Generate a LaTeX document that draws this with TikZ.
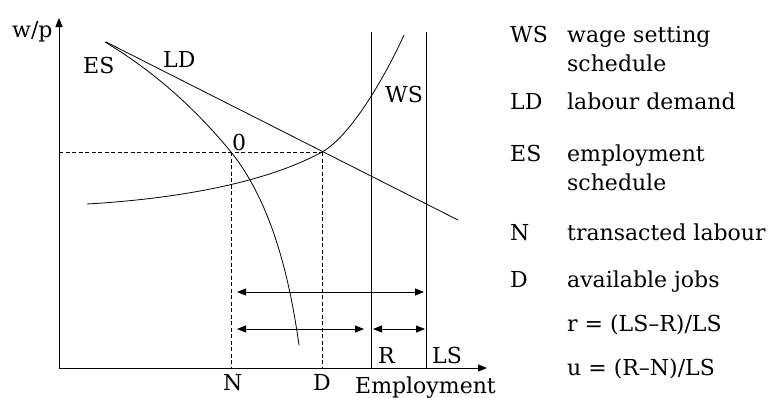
\documentclass[tikz,border=0pt]{standalone}
\usepackage{fontspec}
\setmainfont{DejaVu Serif}
\usetikzlibrary{arrows.meta}
\begin{document}
\begin{tikzpicture}[x=1pt,y=-1pt,
  lbl/.style={inner sep=0pt,anchor=base west,font=\fontsize{22}{26}\selectfont},
  curve/.style={line width=0.8pt},
  axis/.style={line width=1pt,-{Triangle[length=9pt,width=7pt]}},
  guide/.style={line width=0.7pt,dash pattern=on 4pt off 2.5pt},
  span/.style={line width=0.8pt,{Triangle[length=9pt,width=7pt]}-{Triangle[length=9pt,width=7pt]}}]
\useasboundingbox (0,0) rectangle (772,397);
% coordinates
\coordinate (O) at (59,368);
\coordinate (Ytop) at (59,18);
\coordinate (Xend) at (487,368);
\coordinate (E0) at (322,152);
\coordinate (Npt) at (231,152);
\coordinate (Wax) at (59,152);
\coordinate (Nax) at (231,368);
\coordinate (Dax) at (322,368);
\coordinate (Rtop) at (371,32);
\coordinate (Rbot) at (371,368);
\coordinate (LStop) at (426,32);
\coordinate (LSbot) at (426,368);
\coordinate (LDa) at (106,42);
\coordinate (LDb) at (458,220);
\coordinate (ESa) at (105,42);
\coordinate (ESb) at (299,345);
\coordinate (WSa) at (87,204);
\coordinate (WSb) at (404,35);
\coordinate (A1) at (237,292);
\coordinate (A2) at (424,292);
\coordinate (B1) at (237,329);
\coordinate (B2) at (364,329);
\coordinate (C1) at (373,329);
\coordinate (C2) at (425,329);
% axes
\draw[axis] (O) -- (Ytop);
\draw[axis] (O) -- (Xend);
% guides
\draw[guide] (Wax) -- (E0);
\draw[guide] (Npt) -- (Nax);
\draw[guide] (E0) -- (Dax);
% verticals
\draw[curve] (Rtop) -- (Rbot);
\draw[curve] (LStop) -- (LSbot);
% LD
\draw[curve] (LDa) -- (LDb);
% ES
\draw[curve] (ESa) .. controls (147,67.2) and (190,102) .. (Npt)
  .. controls (271,202) and (289.2,275) .. (ESb);
% WS
\draw[curve] (WSa) .. controls (190,198) and (272,179.5) .. (E0)
  .. controls (352,135.5) and (387.6,71.4) .. (WSb);
% spans
\draw[span] (A1) -- (A2);
\draw[span] (B1) -- (B2);
\draw[span] (C1) -- (C2);
% plot labels
\node[lbl] (lwp) at (12,37) {w/p};
\node[lbl] (lES) at (83,73) {ES};
\node[lbl] (lLD) at (163,67) {LD};
\node[lbl] (lWS) at (385,102) {WS};
\node[lbl] (l0) at (232,150) {0};
\node[lbl] (lN) at (223,390) {N};
\node[lbl] (lD) at (313,390) {D};
\node[lbl] (lR) at (378,363) {R};
\node[lbl] (lLS) at (432,363) {LS};
\node[lbl] (lEmp) at (355,393) {Employment};
% legend
\node[lbl] (k1) at (510,42) {WS};
\node[lbl] (v1) at (567,42) {wage setting};
\node[lbl] (v1b) at (567,71) {schedule};
\node[lbl] (k2) at (510,109) {LD};
\node[lbl] (v2) at (567,109) {labour demand};
\node[lbl] (k3) at (510,161) {ES};
\node[lbl] (v3) at (567,161) {employment};
\node[lbl] (v3b) at (567,190) {schedule};
\node[lbl] (k4) at (510,240) {N};
\node[lbl] (v4) at (567,240) {transacted labour};
\node[lbl] (k5) at (510,287) {D};
\node[lbl] (v5) at (567,287) {available jobs};
\node[lbl] (v6) at (567,331) {r = (LS–R)/LS};
\node[lbl] (v7) at (567,375) {u = (R–N)/LS};
\end{tikzpicture}
\end{document}
